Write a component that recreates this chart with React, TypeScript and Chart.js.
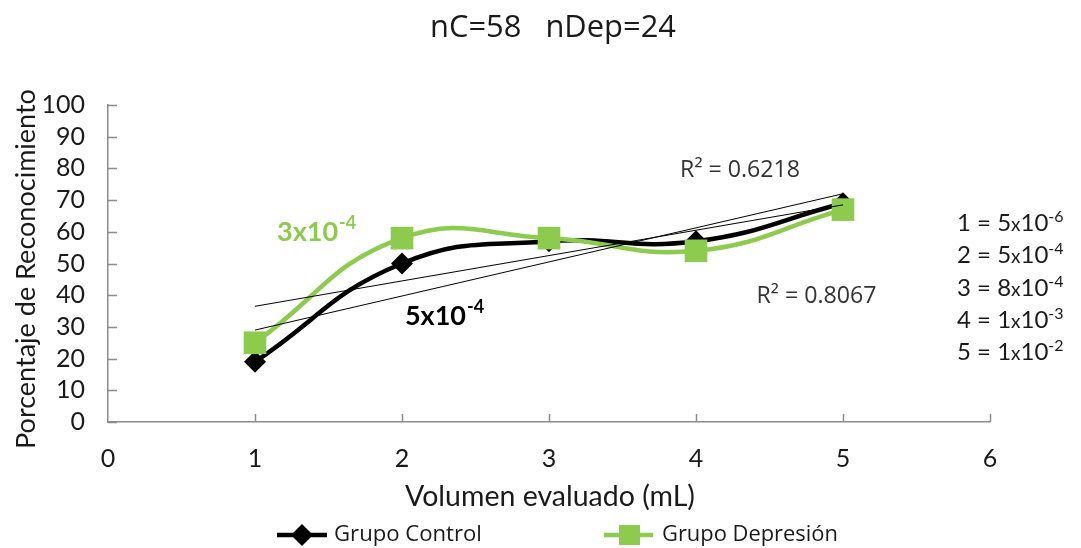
import React, { useEffect, useRef } from "react";
import { Chart, registerables } from "chart.js";

Chart.register(...registerables);

// ---- data ----
const xValues = [1, 2, 3, 4, 5];
const controlValues = [19, 50, 57, 57, 69];
const depressionValues = [25, 58, 58, 54, 67];
const trendX = [1, 5];
const controlTrend = [29, 72];
const depressionTrend = [36.5, 68.5];
const yTickValues = [0, 10, 20, 30, 40, 50, 60, 70, 80, 90, 100];
const xTickValues = [0, 1, 2, 3, 4, 5, 6];
const concentrationKeys = ["1", "2", "3", "4", "5"];
const concentrationMantissa = ["5", "5", "8", "1", "1"];
const concentrationExponent = ["-6", "-4", "-4", "-3", "-2"];
const r2Labels = ["R² = 0.6218", "R² = 0.8067"];
const titleText = "nC=58   nDep=24";
const seriesNames = ["Grupo Control", "Grupo Depresión"];

const GREEN = "#8DCB4E";
const BLACK = "#000000";
const AXIS = "#8c8c8c";
const TEXT = "#1a1a1a";
const GOTHIC = "Lato";
const CALIBRI = '"Open Sans"';

function drawSup(ctx: CanvasRenderingContext2D, x: number, y: number, base: string, sup: string, font: string, supFont: string, rise: number) {
  ctx.font = font;
  ctx.textAlign = "left";
  ctx.textBaseline = "alphabetic";
  ctx.fillText(base, x, y);
  const w = ctx.measureText(base).width;
  ctx.font = supFont;
  ctx.fillText(sup, x + w + 1, y - rise);
}

function fitText(ctx: CanvasRenderingContext2D, text: string, family: string, weight: string, targetWidth: number) {
  ctx.font = `${weight} 20px ${family}`;
  const w = ctx.measureText(text).width;
  const size = (20 * targetWidth) / w;
  return `${weight} ${size.toFixed(2)}px ${family}`;
}

const decorPlugin = {
  id: "decor",
  beforeDatasetsDraw(chart: any) {
    const ctx = chart.ctx as CanvasRenderingContext2D;
    const { left, bottom } = chart.chartArea;
    const xs = chart.scales.x;
    const ys = chart.scales.y;
    ctx.save();
    ctx.strokeStyle = AXIS;
    ctx.lineWidth = 1.5;
    ctx.beginPath();
    yTickValues.forEach((v) => {
      const py = Math.round(ys.getPixelForValue(v)) + 0.5;
      ctx.moveTo(left, py);
      ctx.lineTo(left + 9, py);
    });
    xTickValues.forEach((v) => {
      if (v === 0) return;
      const px = Math.round(xs.getPixelForValue(v)) + 0.5;
      ctx.moveTo(px, bottom);
      ctx.lineTo(px, bottom - 8);
    });
    ctx.stroke();
    ctx.restore();
  },
  afterDraw(chart: any) {
    const ctx = chart.ctx as CanvasRenderingContext2D;
    const xs = chart.scales.x;
    const ys = chart.scales.y;
    const area = chart.chartArea;
    ctx.save();
    ctx.fillStyle = TEXT;

    // title
    ctx.font = fitText(ctx, titleText, CALIBRI, "normal", 246);
    ctx.textAlign = "center";
    ctx.textBaseline = "middle";
    ctx.fillText(titleText, 553, 28);

    // axis titles
    ctx.font = fitText(ctx, "Volumen evaluado (mL)", GOTHIC, "normal", 290);
    ctx.fillText("Volumen evaluado (mL)", 550, 497);
    ctx.save();
    ctx.translate(26, 269);
    ctx.rotate(-Math.PI / 2);
    ctx.font = fitText(ctx, "Porcentaje de Reconocimiento", GOTHIC, "normal", 360);
    ctx.fillText("Porcentaje de Reconocimiento", 0, 0);
    ctx.restore();

    // R² labels
    ctx.font = fitText(ctx, r2Labels[0], CALIBRI, "normal", 120);
    ctx.fillStyle = "#333333";
    ctx.fillText(r2Labels[0], xs.getPixelForValue(4.3), ys.getPixelForValue(79.5));
    ctx.fillText(r2Labels[1], xs.getPixelForValue(4.82), ys.getPixelForValue(39.5));

    // bold concentration annotations
    ctx.fillStyle = GREEN;
    drawSup(ctx, xs.getPixelForValue(1.15), ys.getPixelForValue(57), "3x10", "-4", `bold 27px ${GOTHIC}`, `bold 18px ${GOTHIC}`, 12);
    ctx.fillStyle = BLACK;
    drawSup(ctx, xs.getPixelForValue(2.02), ys.getPixelForValue(30.5), "5x10", "-4", `bold 27px ${GOTHIC}`, `bold 18px ${GOTHIC}`, 12);

    // concentration key on right
    ctx.fillStyle = TEXT;
    concentrationKeys.forEach((k, i) => {
      const bx = area.right - 33;
      const by = 231 + i * 32.3;
      ctx.font = `24px ${GOTHIC}`;
      ctx.textAlign = "left";
      ctx.textBaseline = "alphabetic";
      const s = `${k} = ${concentrationMantissa[i]}`;
      ctx.fillText(s, bx, by);
      let w = ctx.measureText(s).width;
      ctx.font = `19px ${GOTHIC}`;
      ctx.fillText("x", bx + w, by);
      w += ctx.measureText("x").width;
      ctx.font = `24px ${GOTHIC}`;
      ctx.fillText("10", bx + w, by);
      w += ctx.measureText("10").width;
      ctx.font = `16px ${GOTHIC}`;
      ctx.fillText(concentrationExponent[i], bx + w, by - 9);
    });

    // legend
    const ly = 535;
    ctx.lineWidth = 4.5;
    ctx.strokeStyle = BLACK;
    ctx.beginPath();
    ctx.moveTo(277, ly);
    ctx.lineTo(327, ly);
    ctx.stroke();
    ctx.fillStyle = BLACK;
    ctx.beginPath();
    ctx.moveTo(302, ly - 11);
    ctx.lineTo(313, ly);
    ctx.lineTo(302, ly + 11);
    ctx.lineTo(291, ly);
    ctx.closePath();
    ctx.fill();
    ctx.strokeStyle = GREEN;
    ctx.beginPath();
    ctx.moveTo(604, ly);
    ctx.lineTo(653, ly);
    ctx.stroke();
    ctx.fillStyle = GREEN;
    ctx.fillRect(619, ly - 10, 21, 20);
    ctx.fillStyle = TEXT;
    ctx.font = fitText(ctx, seriesNames[0], CALIBRI, "normal", 148);
    ctx.textAlign = "left";
    ctx.textBaseline = "middle";
    ctx.fillText(seriesNames[0], 334, ly);
    ctx.font = fitText(ctx, seriesNames[1], CALIBRI, "normal", 176);
    ctx.fillText(seriesNames[1], 662, ly);

    ctx.restore();
  },
};

export default function App() {
  const ref = useRef<HTMLCanvasElement | null>(null);
  useEffect(() => {
    if (!ref.current) return;
    const toPts = (xsArr: number[], ysArr: number[]) => xsArr.map((x, i) => ({ x, y: ysArr[i] }));
    const chart = new Chart(ref.current, {
      type: "line",
      data: {
        datasets: [
          {
            label: "trendC",
            data: toPts(trendX, controlTrend),
            borderColor: "#000",
            borderWidth: 1,
            pointRadius: 0,
            tension: 0,
          },
          {
            label: "trendD",
            data: toPts(trendX, depressionTrend),
            borderColor: "#000",
            borderWidth: 1,
            pointRadius: 0,
            tension: 0,
          },
          {
            label: seriesNames[1],
            data: toPts(xValues, depressionValues),
            borderColor: GREEN,
            backgroundColor: GREEN,
            borderWidth: 4.5,
            pointStyle: "rect",
            pointRadius: 16,
            pointBorderWidth: 0,
            tension: 0.45,
          },
          {
            label: seriesNames[0],
            data: toPts(xValues, controlValues),
            borderColor: BLACK,
            backgroundColor: BLACK,
            borderWidth: 4.5,
            pointStyle: "rectRot",
            pointRadius: 11,
            pointBorderWidth: 0,
            tension: 0.45,
          },
        ],
      },
      options: {
        responsive: false,
        animation: false,
        events: [],
        layout: { padding: { left: 0, right: 91, top: 105, bottom: 0 } },
        plugins: { legend: { display: false }, title: { display: false }, tooltip: { enabled: false } },
        scales: {
          x: {
            type: "linear",
            min: 0,
            max: 6,
            afterFit: (s: any) => {
              s.height = 126;
            },
            afterBuildTicks: (s: any) => {
              s.ticks = xTickValues.map((v) => ({ value: v }));
            },
            ticks: { font: { family: GOTHIC, size: 25 }, color: TEXT, padding: 22, autoSkip: false, maxRotation: 0 },
            grid: { drawOnChartArea: false, drawTicks: false },
            border: { color: AXIS, width: 1.5 },
          },
          y: {
            min: 0,
            max: 100,
            afterFit: (s: any) => {
              s.width = 108;
            },
            afterBuildTicks: (s: any) => {
              s.ticks = yTickValues.map((v) => ({ value: v }));
            },
            ticks: { font: { family: GOTHIC, size: 25, lineHeight: 1 }, color: TEXT, padding: 23, autoSkip: false },
            grid: { drawOnChartArea: false, drawTicks: false },
            border: { color: AXIS, width: 1.5 },
          },
        },
      },
      plugins: [decorPlugin],
    });
    return () => chart.destroy();
  }, []);
  return (
    <div style={{ position: "fixed", left: 0, top: 0, width: 1081, height: 548, background: "#fff" }}>
      <canvas ref={ref} width={1081} height={548} />
    </div>
  );
}
